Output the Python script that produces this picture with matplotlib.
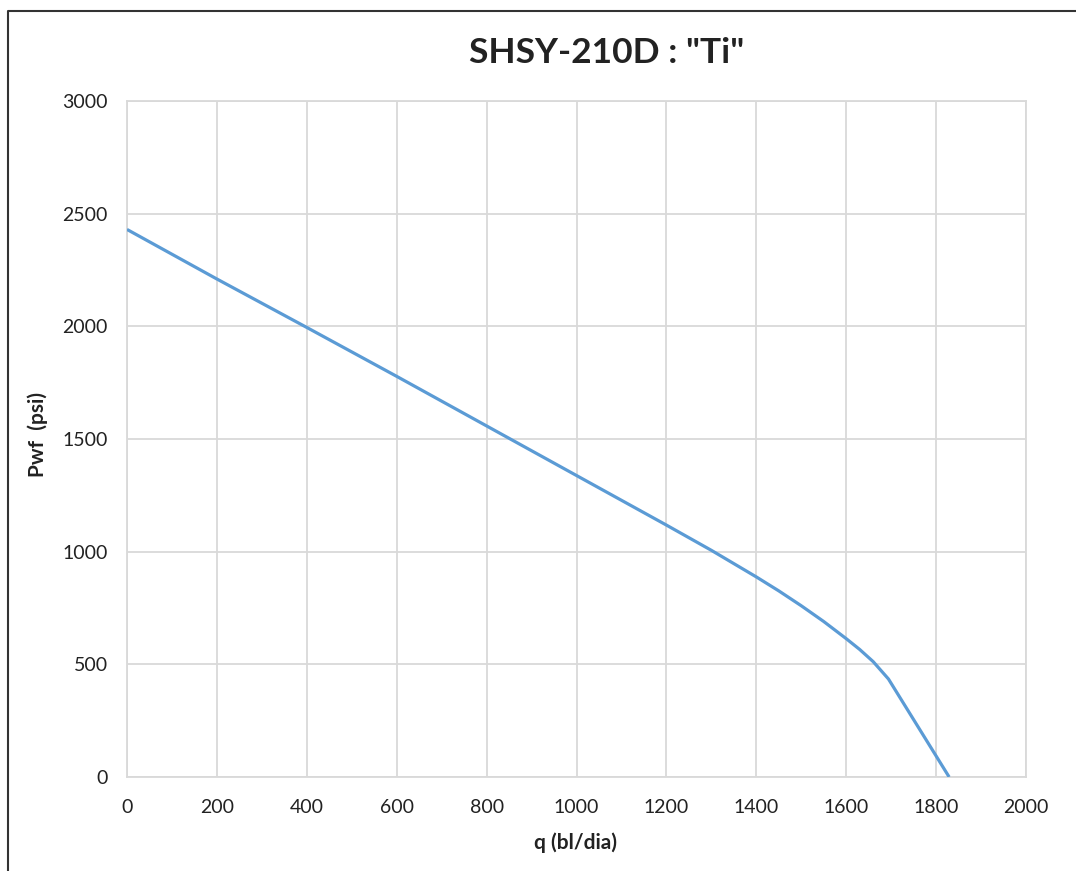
import matplotlib
matplotlib.use("Agg")
import matplotlib.pyplot as plt
from matplotlib.lines import Line2D

# IPR curve for well SHSY-210D, "Ti" sand
q_bpd = [0, 200, 400, 600, 800, 1000, 1200, 1300, 1400, 1450, 1500, 1550,
         1600, 1630, 1660, 1694, 1829]
pwf_psi = [2430, 2210, 1995, 1778, 1558, 1338, 1118, 1006, 888, 826, 760, 690,
           614, 566, 512, 435, 0]

x_ticks = [0, 200, 400, 600, 800, 1000, 1200, 1400, 1600, 1800, 2000]
y_ticks = [0, 500, 1000, 1500, 2000, 2500, 3000]

title = 'SHSY-210D : "Ti"'
x_label = "q (bl/dia)"
y_label = "Pwf  (psi)"

plt.rcParams["font.family"] = ["Lato", "DejaVu Sans"]
text_color = "#222222"
grid_color = "#D9D9D9"
line_color = "#5B9BD5"

W, H = 1076, 871
fig = plt.figure(figsize=(W / 100, H / 100), dpi=100)
ax = fig.add_axes([127 / W, 1 - 777 / H, (1026 - 127) / W, (777 - 101) / H])

ax.plot(q_bpd, pwf_psi, color=line_color, lw=2.3, solid_capstyle="butt",
        solid_joinstyle="round", zorder=3)

ax.set_xlim(0, 2000)
ax.set_ylim(0, 3000)
ax.set_xticks(x_ticks)
ax.set_yticks(y_ticks)
ax.grid(True, color=grid_color, lw=1.3)
ax.set_axisbelow(True)
for s in ax.spines.values():
    s.set_color(grid_color)
    s.set_linewidth(1.3)
ax.tick_params(length=0, labelsize=14, colors=text_color)
ax.tick_params(axis="y", pad=14)
ax.tick_params(axis="x", pad=16)

fig.text(607 / W, 1 - 53 / H, title, ha="center", va="center",
         fontsize=25.5, fontweight="bold", color=text_color)
fig.text(576 / W, 1 - 843 / H, x_label, ha="center", va="center",
         fontsize=15, fontweight="bold", color=text_color)
fig.text(38 / W, 1 - 434 / H, y_label, ha="center", va="center", rotation=90,
         fontsize=15, fontweight="bold", color=text_color)

# chart-area frame (left and top edges)
fig.add_artist(Line2D([8 / W, 8 / W, 1.0], [0.0, 1 - 11 / H, 1 - 11 / H],
                      transform=fig.transFigure, color="#333333", lw=1.5))

fig.savefig("out.png", dpi=100, facecolor="white")
